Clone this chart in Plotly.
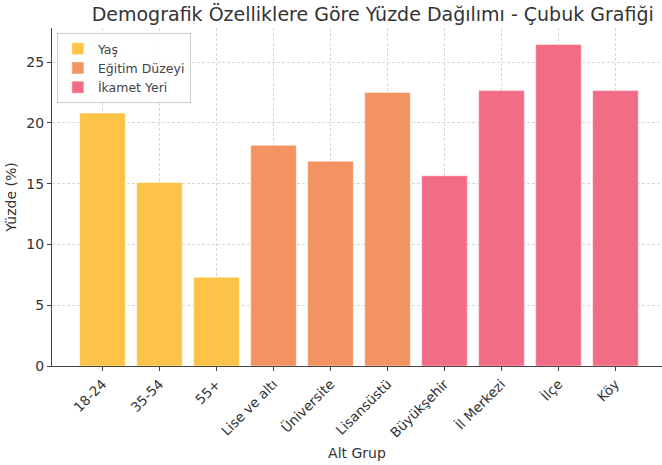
import plotly.graph_objects as go

categories = ["18-24", "35-54", "55+", "Lise ve altı", "Üniversite", "Lisansüstü",
              "Büyükşehir", "İl Merkezi", "İlçe", "Köy"]
values = [20.8, 15.1, 7.3, 18.15, 16.85, 22.5, 15.65, 22.65, 26.45, 22.65]
groups = ["Yaş", "Yaş", "Yaş", "Eğitim Düzeyi", "Eğitim Düzeyi", "Eğitim Düzeyi",
          "İkamet Yeri", "İkamet Yeri", "İkamet Yeri", "İkamet Yeri"]
group_names = ["Yaş", "Eğitim Düzeyi", "İkamet Yeri"]
group_colors = ["rgb(253,194,72)", "rgb(242,147,97)", "rgb(243,108,134)"]
y_ticks = [0, 5, 10, 15, 20, 25]

fig = go.Figure()
for name, color in zip(group_names, group_colors):
    xs = [c for c, g in zip(categories, groups) if g == name]
    ys = [v for v, g in zip(values, groups) if g == name]
    fig.add_trace(go.Bar(x=xs, y=ys, name=name, width=0.8,
                         marker=dict(color=color, line=dict(color="rgba(255,255,255,0.6)", width=0.8))))

font = "DejaVu Sans"
fig.update_layout(
    width=662, height=465,
    margin=dict(l=52, r=0, t=28, b=99),
    paper_bgcolor="white", plot_bgcolor="white",
    font=dict(family=font, color="#333333", size=13),
    barmode="relative",
    title=dict(text="Demografik Özelliklere Göre Yüzde Dağılımı - Çubuk Grafiği",
               x=0.563, xanchor="center", xref="container",
               y=1 - 14 / 465, yanchor="middle", yref="container",
               font=dict(size=19, family=font, color="#333333")),
    legend=dict(x=0.008, y=0.985, xanchor="left", yanchor="top",
                bgcolor="rgba(255,255,255,0.9)", bordercolor="#cccccc", borderwidth=1,
                font=dict(size=12.5, color="#444444"), tracegroupgap=0,
                itemwidth=30),
    showlegend=True,
)
fig.update_xaxes(
    type="category", categoryorder="array", categoryarray=categories,
    range=[-0.886, 9.816], automargin=False,
    showgrid=True, gridcolor="#d8d8d8", griddash="3px,2px", gridwidth=0.8,
    showline=True, linecolor="#444444", linewidth=1,
    ticks="outside", ticklen=4, tickcolor="#444444",
    tickangle=-45, tickfont=dict(size=13.5, color="#333333"),
    title=dict(text="Alt Grup", font=dict(size=14, color="#333333"), standoff=8),
)
fig.update_yaxes(
    range=[0, 27.8], tickvals=y_ticks, automargin=False,
    showgrid=True, gridcolor="#d8d8d8", griddash="3px,2px", gridwidth=0.8,
    zeroline=False,
    showline=True, linecolor="#444444", linewidth=1,
    ticks="outside", ticklen=4, tickcolor="#444444",
    tickfont=dict(size=14, color="#333333"),
    title=dict(text="Yüzde (%)", font=dict(size=14, color="#333333"), standoff=6),
)
fig.write_html("out.html", config={"displayModeBar": False},
               post_script="document.body.style.margin='0';")
